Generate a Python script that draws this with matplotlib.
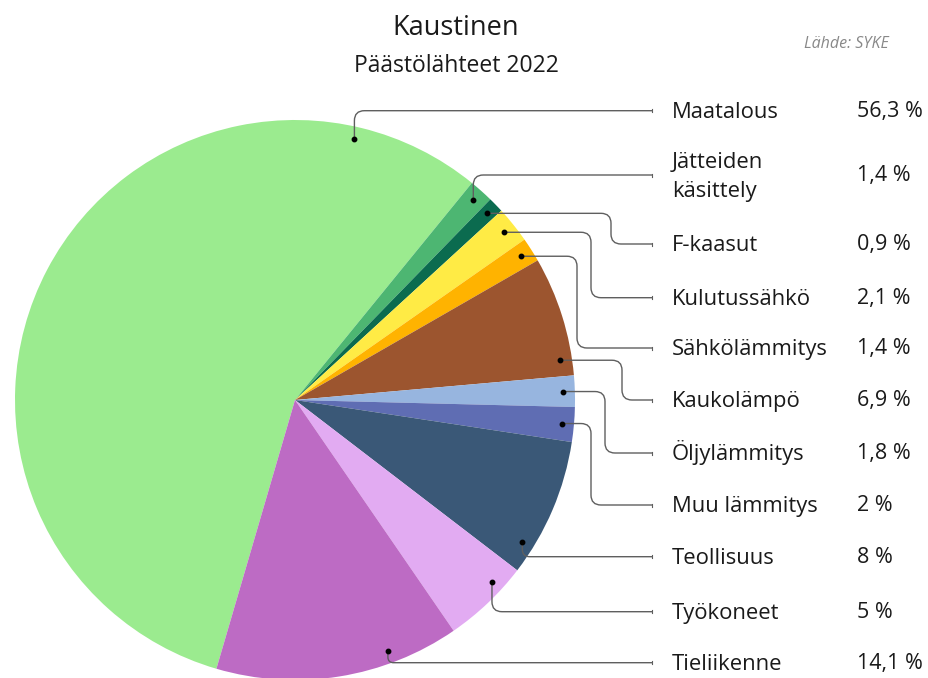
import numpy as np
import matplotlib
matplotlib.use("Agg")
import matplotlib.pyplot as plt
from matplotlib.path import Path
from matplotlib.patches import PathPatch

plt.rcParams['font.family'] = ['Open Sans', 'DejaVu Sans']

# data
sources = ["Maatalous", "Jätteiden\nkäsittely", "F-kaasut", "Kulutussähkö",
           "Sähkölämmitys", "Kaukolämpö", "Öljylämmitys", "Muu lämmitys",
           "Teollisuus", "Työkoneet", "Tieliikenne"]
shares = [56.3, 1.4, 0.9, 2.1, 1.4, 6.9, 1.8, 2.0, 8.0, 5.0, 14.1]
colors = ["#9beb8f", "#4db672", "#0b6b4f", "#ffeb45", "#ffb300", "#9c552f",
          "#97b5df", "#5f6db3", "#3a5877", "#e2abf2", "#bd6bc4"]

# layout (pixels, y measured from top)
W, H = 929, 678
cx, cy, R = 295, 400, 280
start_clock = 196.3          # clock angle where the first slice starts
label_y = [110.7, 175, 244, 297.7, 348, 400, 453, 505, 556.7, 611.7, 662.7]
anchor_frac = [0.87, 0.5, 0.5, 0.5, 0.5, 0.86, 0.5, 0.5, 0.81, 0.29, 0.28]
elbow_x = [None, None, 611, 591, 577, 622, 605, 591, None, None, None]
anchor_r = 268
line_end = 652
name_x, pct_x = 672, 857

fig = plt.figure(figsize=(W / 100, H / 100), dpi=100)
ax = fig.add_axes([0, 0, 1, 1])

ax.pie(shares, colors=colors, startangle=90 - start_clock, counterclock=False,
       center=(cx, H - cy), radius=R, wedgeprops=dict(linewidth=0))
ax.set_xlim(0, W)
ax.set_ylim(0, H)
ax.set_aspect('equal')
ax.axis('off')


def rounded(pts, rad=10):
    verts = [pts[0]]
    codes = [Path.MOVETO]
    for i in range(1, len(pts) - 1):
        p0, p1, p2 = (np.array(pts[i - 1], float), np.array(pts[i], float),
                      np.array(pts[i + 1], float))
        d1, d2 = p1 - p0, p2 - p1
        l1, l2 = np.hypot(*d1), np.hypot(*d2)
        if l1 < 1e-6 or l2 < 1e-6:
            continue
        r = min(rad, l1 / 2, l2 / 2)
        a = p1 - d1 / l1 * r
        b = p1 + d2 / l2 * r
        verts += [tuple(a), tuple(p1), tuple(b)]
        codes += [Path.LINETO, Path.CURVE3, Path.CURVE3]
    verts.append(pts[-1])
    codes.append(Path.LINETO)
    return Path(verts, codes)


total = sum(shares)
clock = start_clock
for i, (name, v) in enumerate(zip(sources, shares)):
    span = 360 * v / total
    a = np.radians(clock + anchor_frac[i] * span)
    clock += span
    dx = cx + anchor_r * np.sin(a)
    dy = cy - anchor_r * np.cos(a)
    ly = label_y[i]
    if elbow_x[i] is None:
        pts = [(dx, dy), (dx, ly), (line_end, ly)]
    else:
        pts = [(dx, dy), (elbow_x[i], dy), (elbow_x[i], ly), (line_end, ly)]
    pts = [(x, H - y) for x, y in pts]
    ax.add_patch(PathPatch(rounded(pts), fill=False, edgecolor="#5f5f5f",
                           linewidth=1.0, capstyle='butt'))
    ax.plot([line_end, line_end], [H - ly - 1.5, H - ly + 1.5], color="#5f5f5f", lw=0.8)
    ax.plot(dx, H - dy, 'o', color="black", markersize=3.2)

    lines = name.split("\n")
    n = len(lines)
    for k, txt in enumerate(lines):
        base = ly + 7.2 + (k - (n - 1) / 2) * 29
        ax.text(name_x, H - base, txt, fontsize=15.8, color="#1a1a1a",
                va='baseline', ha='left')
    pct = f"{v:g}".replace(".", ",") + " %"
    ax.text(pct_x, H - (ly + 6), pct, fontsize=15.5, color="#1a1a1a",
            va='baseline', ha='left')

ax.text(456, H - 28, "Kaustinen", fontsize=19.5, color="#1a1a1a",
        ha='center', va='center')
ax.text(456, H - 66, "Päästölähteet 2022", fontsize=16.5, color="#1a1a1a",
        ha='center', va='center')
ax.text(889, H - 44, "Lähde: SYKE", fontsize=11.5, color="#888888",
        style='italic', ha='right', va='center')

fig.savefig("out.png", dpi=100)
